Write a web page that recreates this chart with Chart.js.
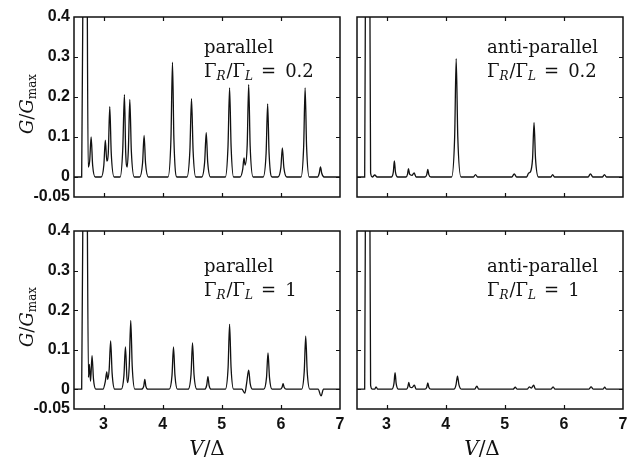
<!DOCTYPE html>
<html><head><meta charset="utf-8">
<script src="https://cdn.jsdelivr.net/npm/chart.js@4"></script>
<style>
html,body{margin:0;padding:0;background:#fff;}
#wrap{position:relative;width:639px;height:460px;overflow:hidden;background:#fff;}
canvas{position:absolute;left:0;top:0;}
</style></head><body>
<div id="wrap">
<canvas id="c1" width="639" height="460"></canvas>
<canvas id="c2" width="639" height="460"></canvas>
<canvas id="c3" width="639" height="460"></canvas>
<canvas id="c4" width="639" height="460"></canvas>
</div>
<script>
// ---- data ----
const xTickValues = [3, 4, 5, 6, 7];
const yTickValues = [-0.05, 0, 0.1, 0.2, 0.3, 0.4];
const yTickLabels = ['-0.05', '0', '0.1', '0.2', '0.3', '0.4'];
const innerXTicks = [3, 4, 5, 6];
const innerYTicks = [0, 0.1, 0.2, 0.3];
const panelLabels = ['parallel', 'anti-parallel', 'parallel', 'anti-parallel'];
const ratioLabels = ['0.2', '0.2', '1', '1'];

// parallel, Γ_R/Γ_L = 0.2
const parallel02 = [
 [2.5,0],[2.63,0],[2.655,0.6],[2.69,1.5],[2.72,0.6],[2.74,0.025],[2.765,0.04],[2.79,0.1],[2.815,0.03],[2.86,0],
 [2.96,0],[3.005,0.03],[3.03,0.092],[3.055,0.04],[3.08,0.06],[3.105,0.176],[3.13,0.06],[3.18,0],
 [3.28,0],[3.325,0.07],[3.353,0.206],[3.375,0.06],[3.4,0.025],[3.42,0.07],[3.444,0.194],[3.47,0.065],[3.52,0],
 [3.61,0],[3.66,0.035],[3.686,0.104],[3.71,0.035],[3.76,0],
 [4.09,0],[4.14,0.095],[4.166,0.287],[4.19,0.095],[4.24,0],
 [4.41,0],[4.46,0.065],[4.488,0.196],[4.515,0.065],[4.56,0],
 [4.66,0],[4.71,0.037],[4.737,0.111],[4.762,0.037],[4.81,0],
 [5.06,0],[5.105,0.075],[5.132,0.223],[5.158,0.075],[5.2,0],
 [5.31,0],[5.355,0.02],[5.376,0.048],[5.395,0.03],[5.43,0.08],[5.455,0.231],[5.48,0.078],[5.53,0],
 [5.7,0],[5.75,0.06],[5.776,0.183],[5.8,0.06],[5.85,0],
 [5.95,0],[6.0,0.024],[6.025,0.073],[6.05,0.024],[6.1,0],
 [6.34,0],[6.385,0.075],[6.41,0.223],[6.435,0.075],[6.48,0],
 [6.62,0],[6.65,0.01],[6.67,0.025],[6.69,0.01],[6.73,0],[7,0]
];
// anti-parallel, Γ_R/Γ_L = 0.2
const antiparallel02 = [
 [2.5,0],[2.63,0],[2.645,0.6],[2.68,1.5],[2.715,0.6],[2.73,0.01],[2.76,0],[2.8,0.005],[2.84,0],
 [3.08,0],[3.115,0.013],[3.132,0.04],[3.15,0.013],[3.19,0],
 [3.33,0],[3.355,0.007],[3.37,0.021],[3.39,0.007],[3.43,0.004],[3.466,0.01],[3.5,0],
 [3.65,0],[3.68,0.006],[3.698,0.019],[3.715,0.006],[3.75,0],
 [4.1,0],[4.152,0.1],[4.178,0.296],[4.205,0.1],[4.26,0],
 [4.47,0],[4.505,0.006],[4.54,0],
 [5.12,0],[5.16,0.008],[5.2,0],
 [5.37,0],[5.404,0.01],[5.43,0.012],[5.47,0.046],[5.495,0.136],[5.52,0.046],[5.57,0],
 [5.78,0],[5.81,0.006],[5.84,0],
 [6.41,0],[6.449,0.008],[6.49,0],
 [6.65,0],[6.686,0.006],[6.72,0],[7,0]
];
// parallel, Γ_R/Γ_L = 1
const parallel1 = [
 [2.5,0],[2.63,0],[2.655,0.6],[2.69,1.5],[2.72,0.6],[2.745,0.03],[2.76,0.063],[2.78,0.02],[2.805,0.085],[2.83,0.025],[2.87,0],
 [2.99,0],[3.03,0.02],[3.054,0.044],[3.07,0.025],[3.095,0.05],[3.12,0.122],[3.145,0.04],[3.19,0],
 [3.3,0],[3.345,0.035],[3.37,0.107],[3.395,0.03],[3.41,0.017],[3.435,0.06],[3.46,0.174],[3.485,0.058],[3.53,0],
 [3.64,0],[3.68,0.008],[3.698,0.025],[3.715,0.008],[3.75,0],
 [4.11,0],[4.158,0.035],[4.183,0.107],[4.208,0.035],[4.25,0],
 [4.43,0],[4.48,0.038],[4.505,0.117],[4.53,0.038],[4.58,0],
 [4.71,0],[4.745,0.01],[4.766,0.032],[4.785,0.01],[4.82,0],
 [5.06,0],[5.107,0.055],[5.132,0.164],[5.157,0.055],[5.2,0],
 [5.34,0],[5.39,-0.01],[5.42,0.015],[5.455,0.048],[5.48,0.015],[5.52,0],
 [5.71,0],[5.757,0.03],[5.782,0.092],[5.807,0.03],[5.85,0],
 [5.99,0],[6.02,0.005],[6.037,0.014],[6.055,0.005],[6.09,0],
 [6.35,0],[6.395,0.045],[6.42,0.134],[6.445,0.045],[6.49,0],
 [6.63,0],[6.68,-0.017],[6.72,0],[7,0]
];
// anti-parallel, Γ_R/Γ_L = 1
const antiparallel1 = [
 [2.5,0],[2.63,0],[2.645,0.6],[2.68,1.5],[2.715,0.6],[2.73,0.01],[2.76,0],[2.8,0],[2.822,0.006],[2.85,0],
 [3.09,0],[3.125,0.014],[3.144,0.042],[3.163,0.014],[3.2,0],
 [3.34,0],[3.36,0.006],[3.376,0.017],[3.395,0.006],[3.43,0.004],[3.471,0.01],[3.5,0],
 [3.65,0],[3.68,0.005],[3.698,0.016],[3.715,0.005],[3.75,0],
 [4.14,0],[4.175,0.011],[4.2,0.033],[4.225,0.011],[4.27,0],
 [4.49,0],[4.528,0.008],[4.56,0],
 [5.14,0],[5.178,0.005],[5.21,0],
 [5.38,0],[5.415,0.006],[5.45,0.003],[5.488,0.01],[5.52,0],
 [5.78,0],[5.817,0.006],[5.85,0],
 [6.42,0],[6.46,0.006],[6.5,0],
 [6.66,0],[6.69,0.005],[6.72,0],[7,0]
];

// ---- layout ----
const W = 639, H = 460;
const SERIF = '"DejaVu Serif", serif';
const SANS = '"Liberation Sans", Arial, sans-serif';
const panels = [
  {id:'c1', data: parallel02,     rect:{l:74,  t:17,  r:340, b:197}, showY:true,  showX:false, idx:0, textDy:0},
  {id:'c2', data: antiparallel02, rect:{l:357, t:17,  r:623, b:197}, showY:false, showX:false, idx:1, textDy:0},
  {id:'c3', data: parallel1,      rect:{l:74,  t:231, r:340, b:409}, showY:true,  showX:true,  idx:2, textDy:5},
  {id:'c4', data: antiparallel1,  rect:{l:357, t:231, r:623, b:409}, showY:false, showX:true,  idx:3, textDy:5}
];

function richText(ctx, x, y, segs, align) {
  let total = 0;
  segs.forEach(s => { ctx.font = s.font; s.w = ctx.measureText(s.t).width; total += s.w + (s.gap || 0); });
  let cx = align === 'center' ? x - total / 2 : x;
  ctx.textBaseline = 'alphabetic';
  ctx.textAlign = 'left';
  segs.forEach(s => { ctx.font = s.font; ctx.fillText(s.t, cx, y + (s.dy || 0)); cx += s.w + (s.gap || 0); });
}

function makePlugin(p) {
  return {
    id: 'panelDeco' + p.idx,
    afterDatasetsDraw(chart) {
      const ctx = chart.ctx, a = chart.chartArea;
      const xs = chart.scales.x, ys = chart.scales.y;
      ctx.save();
      ctx.strokeStyle = '#111';
      ctx.lineWidth = 1.5;
      ctx.strokeRect(a.left, a.top, a.right - a.left, a.bottom - a.top);
      ctx.lineWidth = 1.2;
      ctx.beginPath();
      innerXTicks.forEach(v => {
        const px = Math.round(xs.getPixelForValue(v)) + 0.5;
        ctx.moveTo(px, a.bottom); ctx.lineTo(px, a.bottom - 4);
        ctx.moveTo(px, a.top); ctx.lineTo(px, a.top + 4);
      });
      innerYTicks.forEach(v => {
        const py = Math.round(ys.getPixelForValue(v)) + 0.5;
        ctx.moveTo(a.left, py); ctx.lineTo(a.left + 4, py);
        ctx.moveTo(a.right, py); ctx.lineTo(a.right - 4, py);
      });
      ctx.stroke();
      ctx.restore();
    },
    afterDraw(chart) {
      const ctx = chart.ctx, a = chart.chartArea;
      ctx.save();
      ctx.fillStyle = '#111';
      // panel annotation
      const tx = a.left + 130;
      richText(ctx, tx, a.top + 36 + p.textDy, [{t: panelLabels[p.idx], font: '18px ' + SERIF}]);
      richText(ctx, tx, a.top + 60 + p.textDy, [
        {t:'Γ', font:'18px ' + SERIF},
        {t:'R', font:'italic 12px ' + SERIF, dy:3, gap:1},
        {t:'/', font:'18px ' + SERIF},
        {t:'Γ', font:'18px ' + SERIF},
        {t:'L', font:'italic 12px ' + SERIF, dy:3, gap:8},
        {t:'=', font:'18px ' + SERIF, gap:9},
        {t:ratioLabels[p.idx], font:'18px ' + SERIF}
      ]);
      // y axis title
      if (p.showY) {
        ctx.save();
        ctx.translate(27, (a.top + a.bottom) / 2 - 3);
        ctx.rotate(-Math.PI / 2);
        richText(ctx, 0, 6, [
          {t:'G', font:'italic 18px ' + SERIF},
          {t:'/', font:'18px ' + SERIF},
          {t:'G', font:'italic 18px ' + SERIF},
          {t:'max', font:'12px ' + SERIF, dy:3}
        ], 'center');
        ctx.restore();
      }
      // x axis title
      if (p.showX) {
        const cx = (a.left + a.right) / 2 - (p.idx === 3 ? 8 : 0);
        richText(ctx, cx, 455, [
          {t:'V', font:'italic 20px ' + SERIF},
          {t:'/', font:'20px ' + SERIF},
          {t:'Δ', font:'20px ' + SERIF}
        ], 'center');
      }
      ctx.restore();
    }
  };
}

panels.forEach(p => {
  const xh = p.showX ? 30 : 0;
  const yw = 74;
  new Chart(document.getElementById(p.id), {
    type: 'line',
    data: { datasets: [{
      data: p.data,
      borderColor: '#111',
      borderWidth: 1.3,
      pointRadius: 0,
      cubicInterpolationMode: 'monotone',
      fill: false
    }]},
    options: {
      responsive: false,
      animation: false,
      events: [],
      layout: { padding: {
        left: p.showY ? p.rect.l - yw : p.rect.l,
        top: p.rect.t,
        right: W - p.rect.r,
        bottom: H - p.rect.b - xh
      }},
      plugins: { legend: {display:false}, tooltip: {enabled:false}, title: {display:false} },
      scales: {
        x: {
          type: 'linear', min: 2.5, max: 7,
          afterBuildTicks: s => { s.ticks = xTickValues.map(v => ({value: v})); },
          afterFit: s => { s.height = xh; },
          grid: {display:false, drawTicks:false},
          border: {display:false},
          ticks: {display: p.showX, padding: 6, color:'#111', autoSkip:false, maxRotation:0,
                  font: {family: SANS, size: 16, weight: 'bold'},
                  callback: v => String(v)}
        },
        y: {
          type: 'linear', min: -0.05, max: 0.4,
          afterBuildTicks: s => { s.ticks = yTickValues.map(v => ({value: v})); },
          afterFit: s => { s.width = p.showY ? yw : 0; },
          grid: {display:false, drawTicks:false},
          border: {display:false},
          ticks: {display: p.showY, padding: 4, color:'#111',
                  font: {family: SANS, size: 16, weight: 'bold'},
                  callback: (v) => { const i = yTickValues.findIndex(t => Math.abs(t - v) < 1e-9); return i >= 0 ? yTickLabels[i] : ''; }}
        }
      }
    },
    plugins: [makePlugin(p)]
  });
});
</script>
</body></html>
